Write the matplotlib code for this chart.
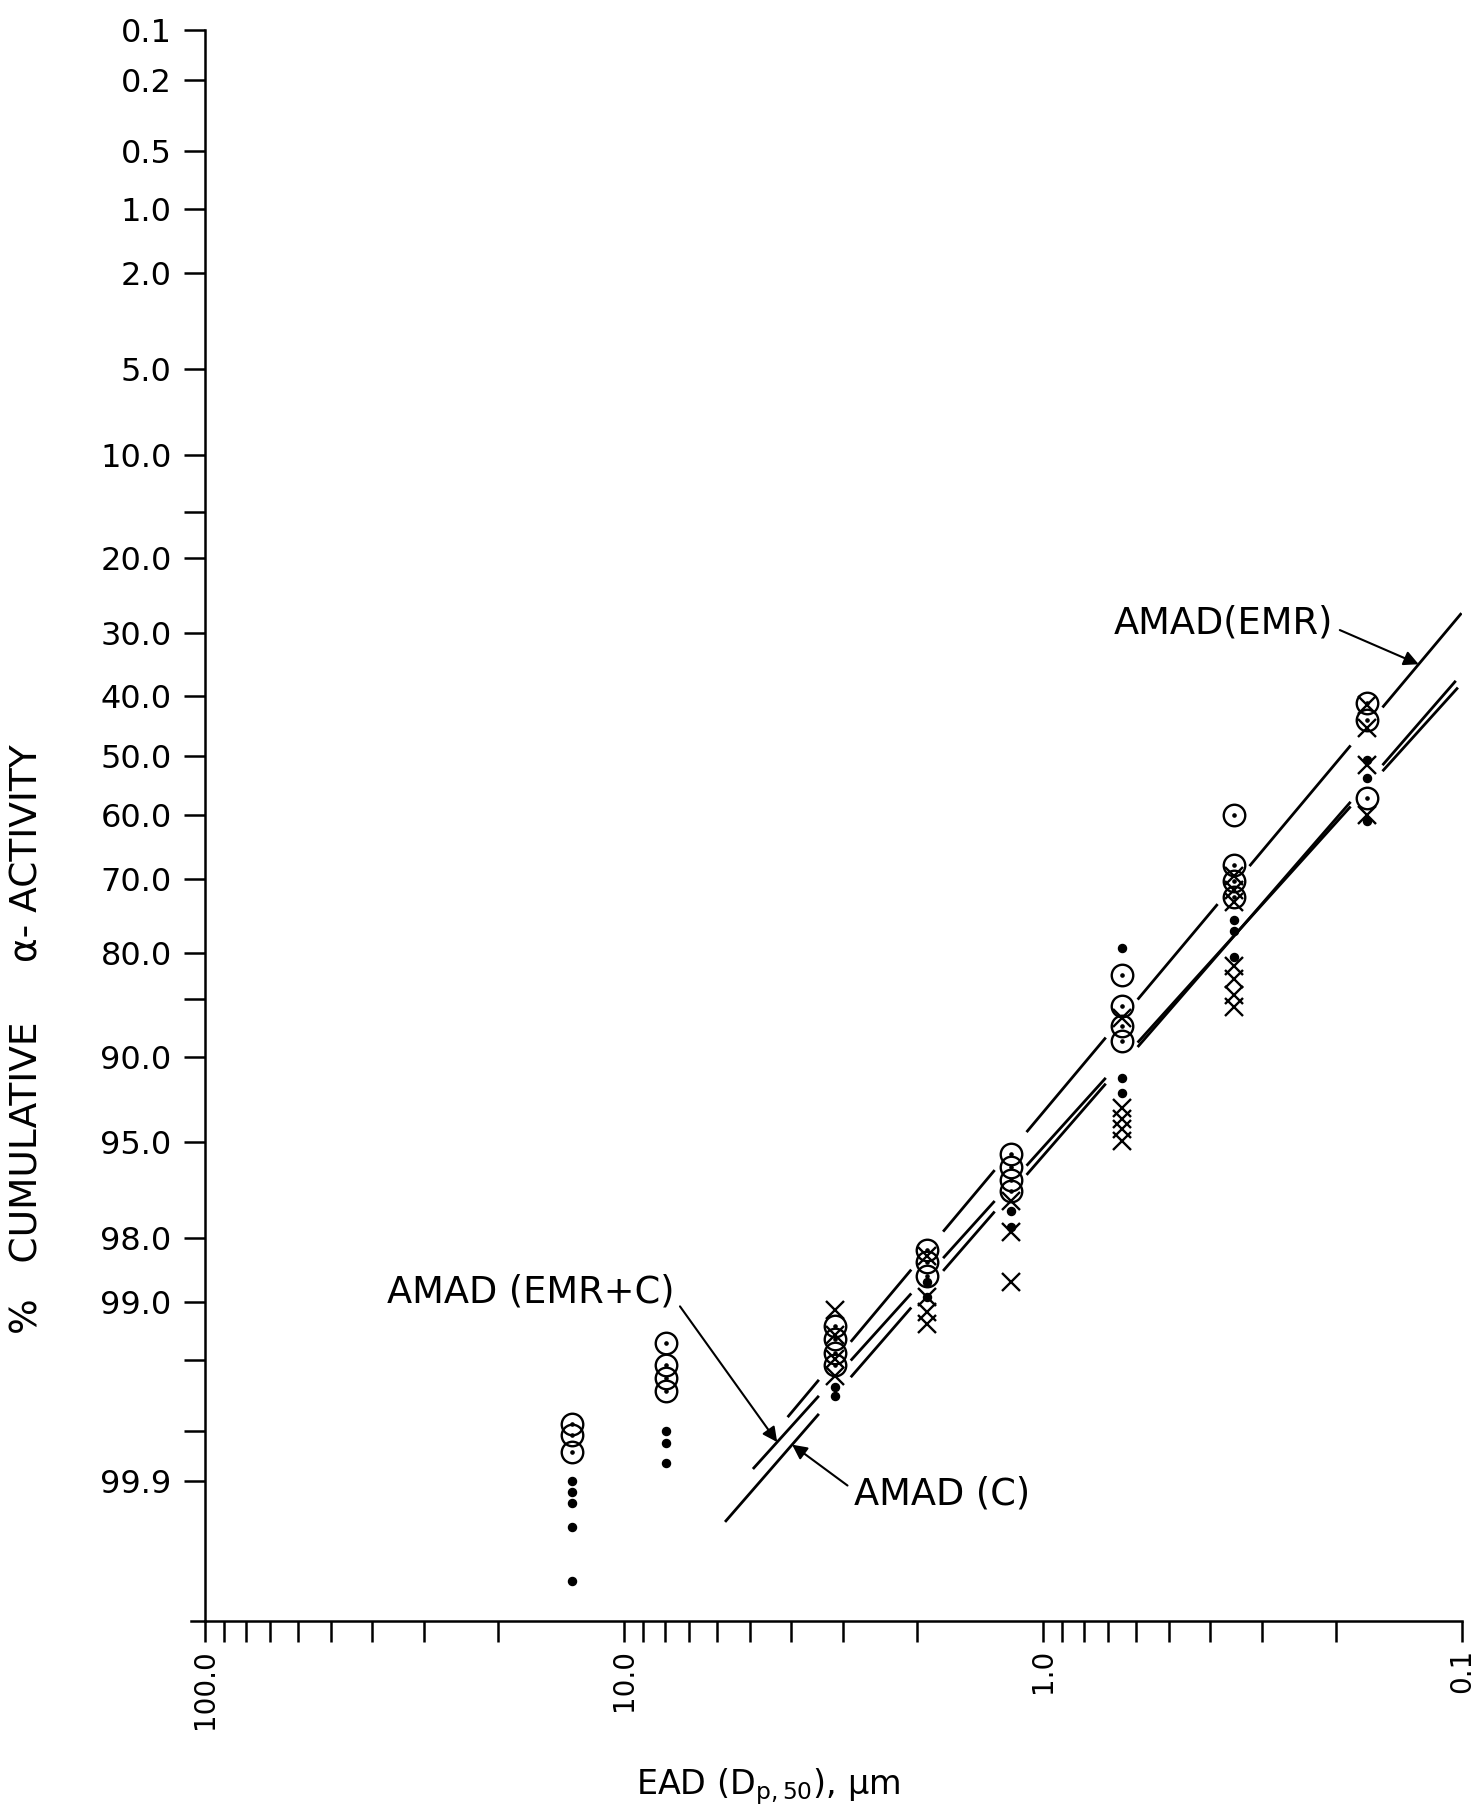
import numpy as np
import matplotlib
matplotlib.use("Agg")
import matplotlib.pyplot as plt
from statistics import NormalDist

# ---------------- data ----------------
# open circles with centre dot
circle_d = [13.3, 13.3, 13.3,
            7.93, 7.93, 7.93, 7.93,
            3.14, 3.14, 3.14, 3.14,
            1.89, 1.89, 1.89,
            1.195, 1.195, 1.195, 1.195,
            0.649, 0.649, 0.649, 0.649,
            0.351, 0.351, 0.351, 0.351,
            0.169, 0.169, 0.169]
circle_pct = [99.78, 99.81, 99.85,
              99.38, 99.53, 99.60, 99.66,
              99.24, 99.35, 99.45, 99.53,
              98.23, 98.45, 98.67,
              95.50, 96.03, 96.47, 96.80,
              82.54, 85.64, 87.56, 88.81,
              59.9, 68.0, 70.4, 72.6,
              41.1, 43.9, 57.2]

# filled dots
dot_d = [13.3, 13.3, 13.3, 13.3, 13.3,
         7.93, 7.93, 7.93,
         3.14, 3.14,
         1.89, 1.89,
         1.195, 1.195,
         0.649, 0.649, 0.649,
         0.351, 0.351, 0.351,
         0.169, 0.169, 0.169]
dot_pct = [99.90, 99.915, 99.927, 99.949, 99.978,
           99.80, 99.83, 99.87,
           99.64, 99.68,
           98.75, 98.94,
           97.37, 97.76,
           79.33, 91.53, 92.48,
           75.8, 77.3, 80.4,
           50.8, 53.8, 60.9]

# crosses
cross_d = [3.14, 3.14, 3.14, 3.14,
           1.89, 1.89, 1.89, 1.89,
           1.195, 1.195, 1.195,
           0.649, 0.649, 0.649, 0.649, 0.649,
           0.351, 0.351, 0.351, 0.351, 0.351, 0.351, 0.351,
           0.169, 0.169, 0.169, 0.169]
cross_pct = [99.09, 99.32, 99.49, 99.59,
             98.35, 98.94, 99.11, 99.23,
             97.11, 97.88, 98.75,
             86.83, 93.35, 93.91, 94.42, 94.95,
             69.6, 71.6, 73.3, 81.5, 82.9, 84.6, 85.8,
             41.5, 45.3, 51.6, 59.9]

# impactor stage diameters (where the fitted lines are interrupted)
stage_d = [3.14, 1.89, 1.195, 0.649, 0.351, 0.169]

# fitted lines (end points)
emr_d, emr_pct = [4.07, 0.1003], [99.758, 27.2]
emrc_d, emrc_pct = [4.925, 0.1023], [99.881, 38.6]
c_d, c_pct = [5.74, 0.1035], [99.945, 37.5]

x_ticks = [100.0, 10.0, 1.0, 0.1]
x_ticklabels = ["100.0", "10.0", "1.0", "0.1"]
y_ticks = [0.1, 0.2, 0.5, 1, 2, 5, 10, 15, 20, 30, 40, 50, 60, 70, 80, 85,
           90, 95, 98, 99, 99.5, 99.8, 99.9]
y_ticklabels = ["0.1", "0.2", "0.5", "1.0", "2.0", "5.0", "10.0", "", "20.0",
                "30.0", "40.0", "50.0", "60.0", "70.0", "80.0", "", "90.0",
                "95.0", "98.0", "99.0", "", "", "99.9"]

# ---------------- probability scale ----------------
_nd = NormalDist()


def _ppf1(q):
    if not np.isfinite(q):
        return np.nan
    q = min(max(q, 1e-12), 1 - 1e-12)
    return _nd.inv_cdf(q)


def _cdf1(z):
    if not np.isfinite(z):
        return np.nan
    return _nd.cdf(z)


_ppf = np.vectorize(_ppf1, otypes=[float])
_cdf = np.vectorize(_cdf1, otypes=[float])


def prob_fwd(p):
    return _ppf(np.asarray(p, dtype=float) / 100.0)


def prob_inv(z):
    return _cdf(np.asarray(z, dtype=float)) * 100.0


def line_segments(d, pct, gaps, half_gap=0.038):
    lx = np.log10(np.asarray(d, float))
    z = prob_fwd(pct)
    o = np.argsort(lx)
    lx, z = lx[o], z[o]
    lo, hi = lx[0], lx[-1]
    edges = [lo]
    for c in sorted(np.log10(gaps)):
        if lo < c - half_gap and c + half_gap < hi:
            edges += [c - half_gap, c + half_gap]
    edges.append(hi)
    segs = []
    for a, b in zip(edges[0::2], edges[1::2]):
        xs = np.array([a, b])
        zs = np.interp(xs, lx, z)
        segs.append((10 ** xs, prob_inv(zs)))
    return segs


def on_line(d, pct, at_d):
    lx = np.log10(np.asarray(d, float))
    z = prob_fwd(pct)
    o = np.argsort(lx)
    zz = np.interp(np.log10(at_d), lx[o], z[o])
    return (at_d, float(prob_inv(zz)))


# ---------------- figure ----------------
plt.rcParams['font.family'] = ['DejaVu Sans']
fig = plt.figure(figsize=(14.78, 18.11), dpi=100)
ax = fig.add_axes([0.1387, 0.1049, 0.8505, 0.8785])
ax.set_xscale('log')
ax.set_yscale('function', functions=(prob_fwd, prob_inv))

lw_line = 2.0
for d_, p_, gaps in [(emr_d, emr_pct, stage_d),
                     (emrc_d, emrc_pct, [g for g in stage_d if g != 0.351]),
                     (c_d, c_pct, [g for g in stage_d if g != 0.351])]:
    for xs, ys in line_segments(d_, p_, gaps):
        ax.plot(xs, ys, color='black', lw=lw_line, solid_capstyle='butt')

ax.plot(circle_d, circle_pct, linestyle='none', marker='o', ms=15.5,
        mfc='none', mec='black', mew=1.7)
ax.plot(circle_d, circle_pct, linestyle='none', marker='o', ms=2.3,
        mfc='black', mec='black')
ax.plot(dot_d, dot_pct, linestyle='none', marker='o', ms=5.8,
        mfc='black', mec='black')
ax.plot(cross_d, cross_pct, linestyle='none', marker='x', ms=12.5,
        mec='black', mew=1.7)

ax.set_xlim(100, 0.1)
ax.set_ylim(99.9886, 0.1)

ax.set_xticks(x_ticks)
ax.set_xticklabels(x_ticklabels, rotation=90, fontsize=20)
ax.xaxis.set_minor_locator(matplotlib.ticker.LogLocator(base=10, subs=np.arange(2, 10)))
ax.xaxis.set_minor_formatter(matplotlib.ticker.NullFormatter())
ax.set_yticks(y_ticks)
ax.set_yticklabels(y_ticklabels, fontsize=23)
ax.yaxis.set_minor_locator(matplotlib.ticker.NullLocator())

ax.tick_params(axis='both', which='both', direction='out', length=15,
               width=1.8, color='black')
ax.tick_params(axis='x', which='both', pad=5)
ax.tick_params(axis='y', which='both', pad=9)

for s in ['top', 'right']:
    ax.spines[s].set_visible(False)
for s in ['left', 'bottom']:
    ax.spines[s].set_linewidth(1.8)
# small overshoot of x-axis to the left of the y-axis
ax.plot([-0.011, 0], [0, 0], transform=ax.transAxes, clip_on=False,
        color='black', lw=1.8)

ax.set_xlabel("EAD (D$_{\\rm p,50}$), μm", fontsize=24)
ax.xaxis.set_label_coords(0.448, -0.091)
ax.set_ylabel("%   CUMULATIVE     α- ACTIVITY", fontsize=27)
ax.yaxis.set_label_coords(-0.127, 0.366)

arrow_kw = dict(arrowstyle='-|>', color='black', lw=1.5, mutation_scale=22,
                shrinkA=3, shrinkB=0)
ax.annotate("AMAD(EMR)", xy=on_line(emr_d, emr_pct, 0.1269), xycoords='data',
            xytext=(0.723, 0.627), textcoords='axes fraction',
            ha='left', va='center', fontsize=26.5,
            arrowprops=dict(arrow_kw, relpos=(1.0, 0.4)))
ax.annotate("AMAD (EMR+C)", xy=on_line(emrc_d, emrc_pct, 4.31), xycoords='data',
            xytext=(0.145, 0.207), textcoords='axes fraction',
            ha='left', va='center', fontsize=26.5,
            arrowprops=dict(arrow_kw, relpos=(1.0, 0.3)))
ax.annotate("AMAD (C)", xy=on_line(c_d, c_pct, 3.97), xycoords='data',
            xytext=(0.516, 0.080), textcoords='axes fraction',
            ha='left', va='center', fontsize=26.5,
            arrowprops=dict(arrow_kw, relpos=(0.0, 0.6)))

fig.savefig("out.png", dpi=100)
